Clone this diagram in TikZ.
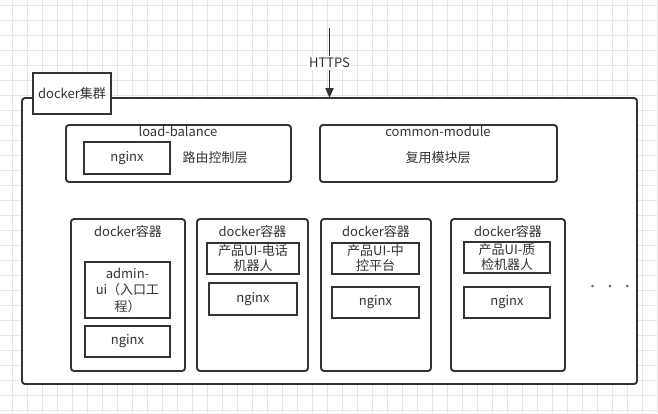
\documentclass[tikz,border=0pt]{standalone}
\usepackage{fontspec}
\setmainfont{Noto Sans CJK SC}
\usetikzlibrary{positioning,arrows.meta}
\definecolor{linegray}{HTML}{333333}
\definecolor{gridgray}{HTML}{E6E6E6}

\tikzset{
  box/.style={draw=linegray, line width=1.9pt, fill=white, inner sep=0pt, outer sep=0pt,
    anchor=north west, text=linegray, align=center, font=\fontsize{13}{15}\selectfont},
  roundbox/.style={box, rounded corners=3pt},
  txt/.style={text=linegray, font=\fontsize{13}{15}\selectfont, align=center, inner sep=0pt},
  flow/.style={draw=linegray, line width=1.9pt, -{Triangle[length=10pt,width=8pt]}},
}

\begin{document}
\begin{tikzpicture}[x=1pt,y=-1pt]

\useasboundingbox[fill=white] (0,0) rectangle (658,413);

% background grid
\foreach \gx in {0,...,43} \draw[gridgray, line width=0.7pt] (12+15*\gx,0) -- (12+15*\gx,413);
\foreach \gy in {0,...,27} \draw[gridgray, line width=0.7pt] (0,5+15*\gy) -- (658,5+15*\gy);

% docker cluster
\node[roundbox, minimum width=615pt, minimum height=286pt] (cluster) at (22,98) {};
\node[box, minimum width=78pt, minimum height=41pt] (clustertab) at (33,73) {docker集群};

% incoming traffic
\coordinate (client) at (329.5,28);
\draw[flow] (client) -- (cluster.north)
  node[pos=0.5, txt, fill=white, inner sep=2pt] (https) {HTTPS};

% load balance layer
\node[roundbox, minimum width=225pt, minimum height=57pt] (lb) at (66,125) {};
\node[txt] (lbtitle) at (178,131) {load-balance};
\node[box, minimum width=86pt, minimum height=32pt] (lbnginx) at (84,142) {nginx};
\node[txt] (route) at (215,158) {路由控制层};

% common module layer
\node[roundbox, minimum width=237pt, minimum height=57pt] (common) at (320,125) {};
\node[txt] (commontitle) at (438,131) {common-module};
\node[txt] (reuse) at (438,158) {复用模块层};

% containers
\node[roundbox, minimum width=114pt, minimum height=152pt] (box1) at (71,219) {};
\node[roundbox, minimum width=111pt, minimum height=152pt] (box2) at (197,219) {};
\node[roundbox, minimum width=110pt, minimum height=152pt] (box3) at (321,219) {};
\node[roundbox, minimum width=114pt, minimum height=152pt] (box4) at (451,219) {};

\node[txt] (title1) at (128,232) {docker容器};
\node[txt] (title2) at (252.5,232) {docker容器};
\node[txt] (title3) at (376,232) {docker容器};
\node[txt] (title4) at (508,232) {docker容器};

\node[box, minimum width=85pt, minimum height=56pt, font=\fontsize{13}{16.5}\selectfont] (admin) at (85,262) {admin-\\ui（入口工\\程）};
\node[box, minimum width=85pt, minimum height=31pt] (nginx1) at (85,326) {nginx};

\node[box, minimum width=92pt, minimum height=31pt] (phone) at (207,243) {产品UI-电话\\机器人};
\node[box, minimum width=88pt, minimum height=32pt] (nginx2) at (209,283) {nginx};

\node[box, minimum width=87pt, minimum height=31pt] (control) at (332,243) {产品UI-中\\控平台};
\node[box, minimum width=87pt, minimum height=31pt] (nginx3) at (332,287) {nginx};

\node[box, minimum width=86pt, minimum height=31pt] (quality) at (464,242) {产品UI-质\\检机器人};
\node[box, minimum width=86pt, minimum height=31pt] (nginx4) at (464,287) {nginx};

\node[txt, text=linegray!70] (more) at (610,288) {·\,\,·\,\,·};

\end{tikzpicture}
\end{document}
